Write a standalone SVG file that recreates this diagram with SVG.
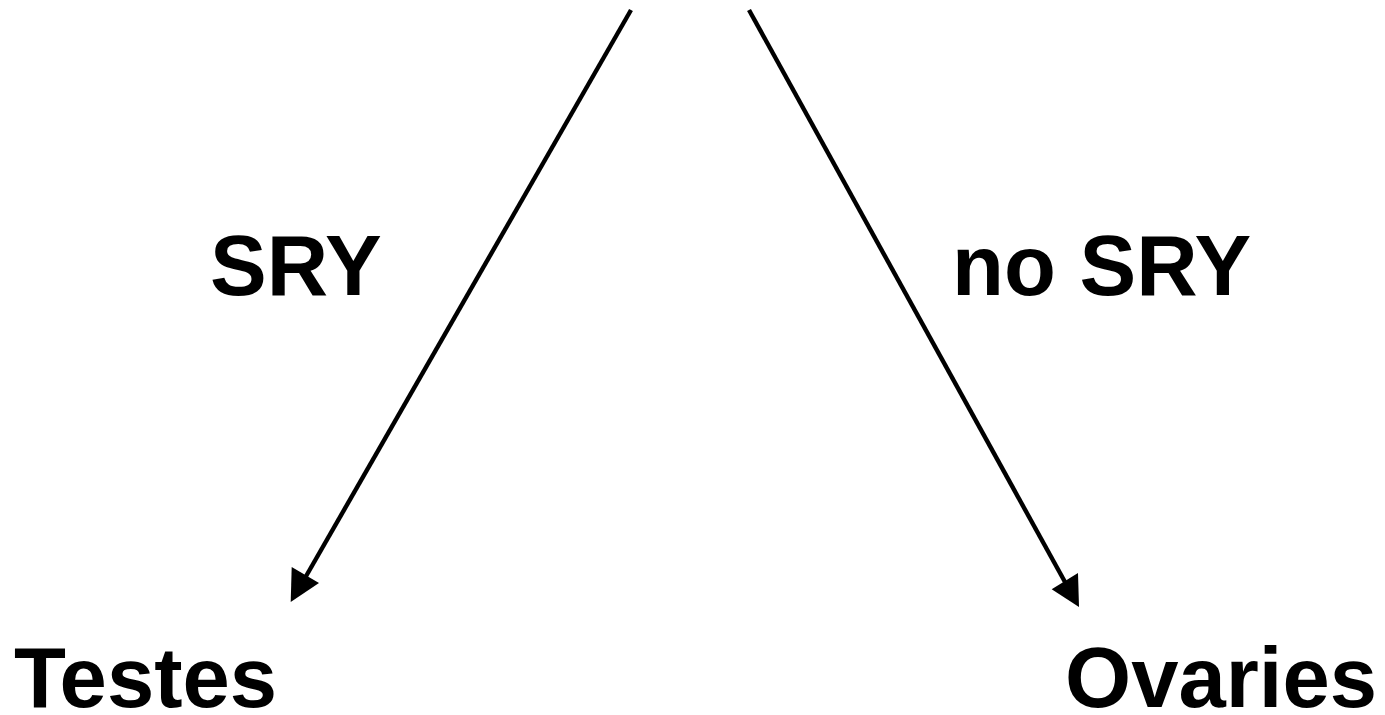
<svg xmlns="http://www.w3.org/2000/svg" width="1385" height="715" viewBox="0 0 1385 715">
<style>
.lbl{font-family:"Liberation Sans",Arial,sans-serif;font-weight:bold;font-size:85px;fill:#000}
.edge{stroke:#000;stroke-width:4.4;fill:none}
</style>
<rect width="1385" height="715" fill="#fff"/>
<g id="connectors">
<line class="edge" x1="631" y1="10" x2="305" y2="578"/>
<polygon points="290.7,602 291.7,567 319,583" fill="#000"/>
<line class="edge" x1="749" y1="10" x2="1065" y2="582"/>
<polygon points="1079,607 1051.7,589.3 1078,573" fill="#000"/>
</g>
<g id="label-sry"><text class="lbl" x="210" y="295">SRY</text></g>
<g id="label-nosry"><text class="lbl" x="952" y="295">no SRY</text></g>
<g id="node-testes"><text class="lbl" x="14" y="707">Testes</text></g>
<g id="node-ovaries"><text class="lbl" x="1377" y="707" text-anchor="end">Ovaries</text></g>
</svg>
